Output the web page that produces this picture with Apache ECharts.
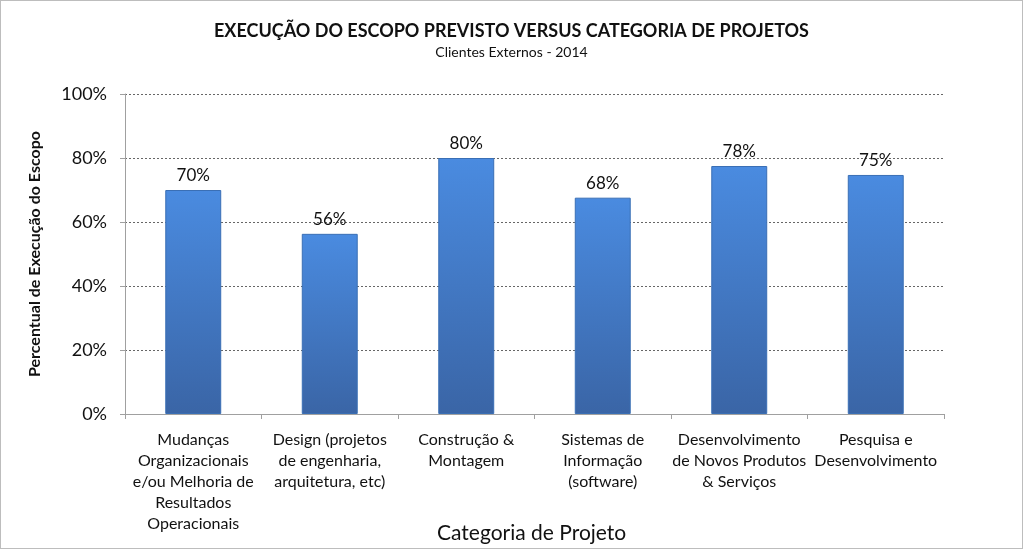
<!DOCTYPE html>
<html><head><meta charset="utf-8">
<script src="https://cdn.jsdelivr.net/npm/echarts@6/dist/echarts.min.js"></script>
<style>html,body{margin:0;padding:0;background:#fff}#c{width:1023px;height:549px;box-sizing:border-box;border:1px solid #bdbdbd}</style>
</head><body><div id="c"></div>
<script>
const categories = [
  'Mudanças\nOrganizacionais\ne/ou Melhoria de\nResultados\nOperacionais',
  'Design (projetos\nde engenharia,\narquitetura, etc)',
  'Construção &\nMontagem',
  'Sistemas de\nInformação\n(software)',
  'Desenvolvimento\nde Novos Produtos\n& Serviços',
  'Pesquisa e\nDesenvolvimento'
];
const values = [70.0, 56.3, 80.0, 67.6, 77.5, 74.7];
const yTicks = [0, 20, 40, 60, 80, 100];
const xAxisTitle = 'Categoria de Projeto';

const FONT = 'Lato, "Open Sans", sans-serif';
const chart = echarts.init(document.getElementById('c'));
chart.setOption({
  animation: false,
  title: {
    text: 'EXECUÇÃO DO ESCOPO PREVISTO VERSUS CATEGORIA DE PROJETOS',
    subtext: 'Clientes Externos - 2014',
    left: 'center', top: 16, itemGap: 5,
    textStyle: {fontFamily: FONT, fontSize: 18, fontWeight: 'bold', color: '#111'},
    subtextStyle: {fontFamily: FONT, fontSize: 14, color: '#111'}
  },
  graphic: [{
    type: 'text', left: 536 - 100, top: 522,
    style: {text: xAxisTitle, font: '21px ' + FONT, fill: '#111', width: 200, textAlign: 'center'}
  }],
  grid: {left: 124, right: 78, top: 93, bottom: 134, outerBoundsMode: 'none', containLabel: false},
  xAxis: {
    type: 'category', data: categories,
    axisLine: {lineStyle: {color: '#a0a0a0'}},
    axisTick: {show: true, length: 5, lineStyle: {color: '#a0a0a0'}},
    axisLabel: {interval: 0, fontFamily: FONT, fontSize: 16, color: '#111', lineHeight: 21, margin: 15}
  },
  yAxis: {
    type: 'value', min: 0, max: 100, interval: 20,
    name: 'Percentual de Execução do Escopo', nameLocation: 'middle', nameGap: 82,
    nameTextStyle: {fontFamily: FONT, fontSize: 16, fontWeight: 'bold', color: '#111'},
    axisLine: {show: true, lineStyle: {color: '#a0a0a0'}},
    axisTick: {show: true, length: 5, lineStyle: {color: '#a0a0a0'}},
    axisLabel: {fontFamily: FONT, fontSize: 18, color: '#111', margin: 18,
      formatter: v => yTicks.includes(v) ? v + '%' : ''},
    splitLine: {lineStyle: {type: [2, 2], color: '#666'}}
  },
  series: [{
    type: 'bar', data: values, barWidth: '41%',
    itemStyle: {
      color: new echarts.graphic.LinearGradient(0, 0, 0, 1, [
        {offset: 0, color: '#4a8be0'},
        {offset: 1, color: '#3a65a6'}
      ]),
      borderColor: '#3a6fb5', borderWidth: 1
    },
    label: {show: true, position: 'top', distance: 6, fontFamily: FONT, fontSize: 17, color: '#111',
      formatter: p => Math.round(p.value) + '%'}
  }]
});
</script></body></html>
